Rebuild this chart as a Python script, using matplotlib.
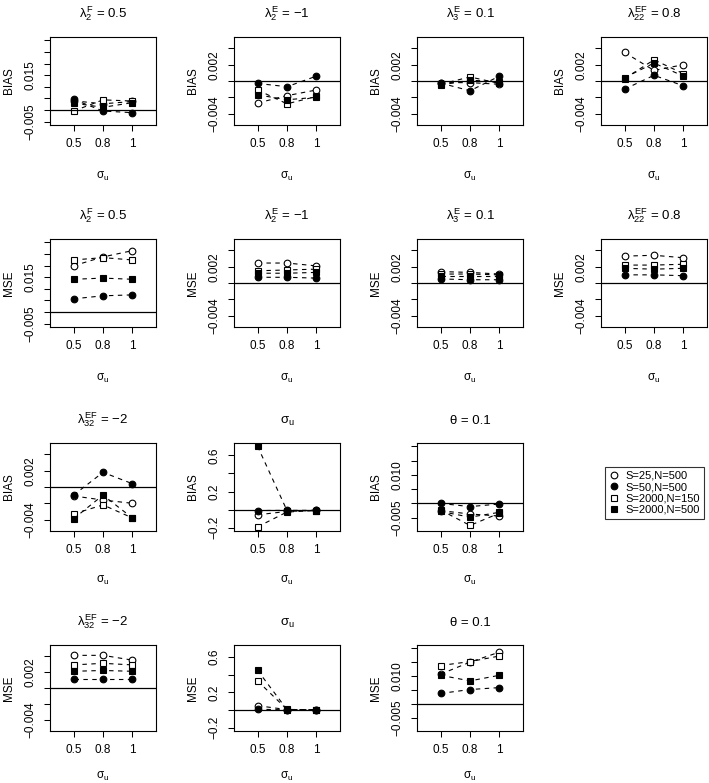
import matplotlib
matplotlib.use("Agg")
import matplotlib.pyplot as plt
from matplotlib.lines import Line2D

plt.rcParams['font.family'] = ['Liberation Sans', 'DejaVu Sans']
plt.rcParams['mathtext.fontset'] = 'custom'
plt.rcParams['mathtext.rm'] = 'Liberation Sans'
plt.rcParams['mathtext.it'] = 'Liberation Sans'
plt.rcParams['mathtext.bf'] = 'Liberation Sans:bold'

MINUS = "\u2212"

# ---------------- data ----------------
sigma_u_labels = ["0.5", "0.8", "1"]
series_labels = ["S=25,N=500", "S=50,N=500", "S=2000,N=150", "S=2000,N=500"]

# each: [S=25,N=500 ; S=50,N=500 ; S=2000,N=150 ; S=2000,N=500]
bias_lambda2F = [[0.0040, 0.0027, 0.0037],
                 [0.0046, -0.0004, -0.0011],
                 [-0.0004, 0.0044, 0.0039],
                 [0.0030, 0.0012, 0.0032]]
bias_lambda2E = [[-0.0027, -0.0018, -0.0011],
                 [-0.0003, -0.0007, 0.0006],
                 [-0.0011, -0.0028, -0.0019],
                 [-0.0017, -0.0023, -0.0020]]
bias_lambda3E = [[-0.0002, -0.0002, -0.0004],
                 [-0.00025, -0.0012, 0.0006],
                 [-0.0004, 0.0005, -0.0003],
                 [-0.0005, 0.0001, -0.0001]]
bias_lambda22EF = [[0.0035, 0.0013, 0.0020],
                   [-0.0010, 0.0007, -0.0006],
                   [0.0003, 0.0026, 0.0009],
                   [0.0004, 0.0022, 0.0006]]
mse_lambda2F = [[0.0199, 0.0237, 0.0264],
                [0.0057, 0.0070, 0.0074],
                [0.0224, 0.0234, 0.0224],
                [0.0141, 0.0146, 0.0141]]
mse_lambda2E = [[0.00245, 0.00245, 0.0021],
                [0.0007, 0.0007, 0.0006],
                [0.0015, 0.0016, 0.0017],
                [0.0012, 0.0012, 0.0013]]
mse_lambda3E = [[0.0014, 0.0013, 0.0011],
                [0.0005, 0.0004, 0.0004],
                [0.0011, 0.0011, 0.0010],
                [0.0008, 0.0008, 0.0008]]
mse_lambda22EF = [[0.0033, 0.0034, 0.0031],
                  [0.0010, 0.0010, 0.0009],
                  [0.0022, 0.0022, 0.0023],
                  [0.0018, 0.0017, 0.0018]]
bias_lambda32EF = [[-0.0011, -0.0016, -0.0020],
                   [-0.0010, 0.0018, 0.0004],
                   [-0.0033, -0.0022, -0.0038],
                   [-0.0039, -0.0010, -0.0038]]
bias_sigmau = [[-0.057, -0.020, -0.008],
               [-0.010, -0.008, -0.008],
               [-0.190, -0.026, -0.010],
               [0.700, -0.010, -0.010]]
bias_theta = [[-0.0025, -0.0037, -0.0044],
              [0.0000, -0.0011, -0.0002],
              [-0.0023, -0.0077, -0.0034],
              [-0.0028, -0.0048, -0.0031]]
mse_lambda32EF = [[0.0041, 0.0041, 0.0035],
                  [0.0011, 0.0011, 0.0011],
                  [0.0029, 0.0031, 0.0029],
                  [0.0021, 0.0022, 0.0021]]
mse_sigmau = [[0.050, 0.006, 0.003],
              [0.010, 0.003, 0.002],
              [0.330, 0.008, 0.003],
              [0.450, 0.006, 0.003]]
mse_theta = [[0.0107, 0.0150, 0.0186],
             [0.0038, 0.0052, 0.0059],
             [0.0138, 0.0152, 0.0172],
             [0.0103, 0.0083, 0.0103]]

# y-axis settings
ax_small = dict(lim=(-0.005, 0.005), ticks=[-0.004, -0.002, 0, 0.002, 0.004],
                labels={-0.004: MINUS + "0.004", 0.002: "0.002"})
ax_big = dict(lim=(-0.005, 0.030), ticks=[-0.005, 0, 0.005, 0.010, 0.015, 0.020, 0.025, 0.030],
              labels={-0.005: MINUS + "0.005", 0.015: "0.015"})
ax_sig = dict(lim=(-0.2, 0.7), ticks=[-0.2, 0, 0.2, 0.4, 0.6],
              labels={-0.2: MINUS + "0.2", 0.2: "0.2", 0.6: "0.6"})
ax_theta = dict(lim=(-0.0085, 0.0200), ticks=[-0.005, 0, 0.005, 0.010, 0.015, 0.020],
                labels={-0.005: MINUS + "0.005", 0.010: "0.010"})

t_l2F = r"$\lambda_{2}^{\mathrm{F}}$" + " = 0.5"
t_l2E = r"$\lambda_{2}^{\mathrm{E}}$" + " = " + MINUS + "1"
t_l3E = r"$\lambda_{3}^{\mathrm{E}}$" + " = 0.1"
t_l22 = r"$\lambda_{22}^{\mathrm{EF}}$" + " = 0.8"
t_l32 = r"$\lambda_{32}^{\mathrm{EF}}$" + " = " + MINUS + "2"
t_sig = r"$\sigma_{\mathrm{u}}$"
t_th = "\u03b8 = 0.1"

panels = [
    (0, 0, t_l2F, "BIAS", bias_lambda2F, ax_big),
    (0, 1, t_l2E, "BIAS", bias_lambda2E, ax_small),
    (0, 2, t_l3E, "BIAS", bias_lambda3E, ax_small),
    (0, 3, t_l22, "BIAS", bias_lambda22EF, ax_small),
    (1, 0, t_l2F, "MSE", mse_lambda2F, ax_big),
    (1, 1, t_l2E, "MSE", mse_lambda2E, ax_small),
    (1, 2, t_l3E, "MSE", mse_lambda3E, ax_small),
    (1, 3, t_l22, "MSE", mse_lambda22EF, ax_small),
    (2, 0, t_l32, "BIAS", bias_lambda32EF, ax_small),
    (2, 1, t_sig, "BIAS", bias_sigmau, ax_sig),
    (2, 2, t_th, "BIAS", bias_theta, ax_theta),
    (3, 0, t_l32, "MSE", mse_lambda32EF, ax_small),
    (3, 1, t_sig, "MSE", mse_sigmau, ax_sig),
    (3, 2, t_th, "MSE", mse_theta, ax_theta),
]

markers = [dict(marker='o', mfc='white', mec='black', ms=4.8, mew=0.8),
           dict(marker='o', mfc='black', mec='black', ms=4.8, mew=0.8),
           dict(marker='s', mfc='white', mec='black', ms=4.5, mew=0.8),
           dict(marker='s', mfc='black', mec='black', ms=4.3, mew=0.8)]

W, H = 709, 783
fig = plt.figure(figsize=(W / 100, H / 100), dpi=100)

col_left = [50, 234, 417, 601]
row_top = [37, 239, 443, 645]
row_h = [88, 88, 88, 86]
xlab_pad = [14, 14, 13, 10]
bw = 106

def pad4(a, b):
    r = b - a
    return a - 0.04 * r, b + 0.04 * r

xs = [1, 2, 3]
for (r, c, title, ylab, data, yax) in panels:
    bh = row_h[r]
    ax = fig.add_axes([col_left[c] / W, 1 - (row_top[r] + bh) / H, bw / W, bh / H])
    for s in range(4):
        ax.plot(xs, data[s], color='black', lw=0.8, ls=(0, (4, 4)), **markers[s])
    ax.axhline(0, color='black', lw=0.9)
    ax.set_xlim(0.2, 3.8)
    ax.set_ylim(*pad4(*yax['lim']))
    ax.set_xticks(xs)
    ax.set_xticklabels(sigma_u_labels)
    ax.set_yticks(yax['ticks'])
    ax.set_yticklabels([yax['labels'].get(t, "") for t in yax['ticks']])
    ax.tick_params(axis='both', direction='out', length=4.5, width=0.75, labelsize=8.5)
    ax.tick_params(axis='x', pad=5)
    ax.tick_params(axis='y', pad=5, labelrotation=90)
    for t in ax.get_yticklabels():
        t.set_verticalalignment('center')
    for sp in ax.spines.values():
        sp.set_linewidth(0.8)
    ax.set_title(title, fontsize=9.5, pad=14)
    ax.set_xlabel(r"$\sigma_{\mathrm{u}}$", fontsize=8.5, labelpad=xlab_pad[r])
    ax.set_ylabel(ylab, fontsize=8.5, labelpad=7)

handles = [Line2D([], [], ls='none', color='black', **markers[s]) for s in range(4)]
leg = fig.legend(handles, series_labels, loc='upper left',
                 bbox_to_anchor=(605 / W, 1 - 467 / H), fontsize=8,
                 frameon=True, fancybox=False, edgecolor='black',
                 handlelength=1.0, handletextpad=0.5, borderpad=0.35,
                 labelspacing=0.12, borderaxespad=0)
leg.get_frame().set_linewidth(0.8)

fig.savefig("out.png", dpi=100)
